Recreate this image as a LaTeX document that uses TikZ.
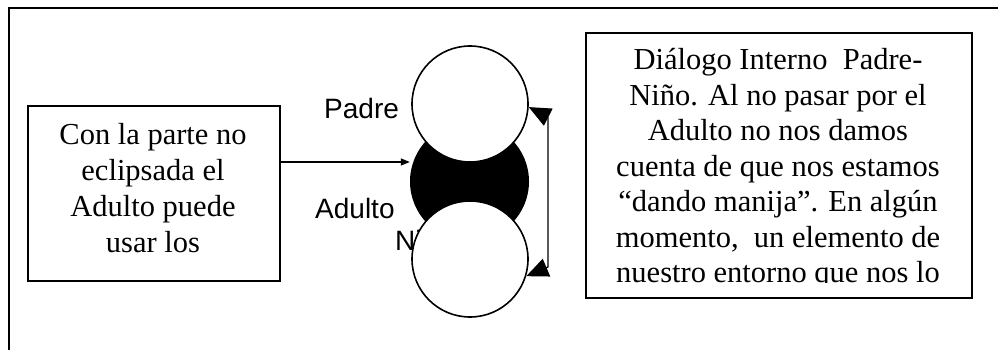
\documentclass[tikz,border=0pt]{standalone}
\usepackage{fontspec}
\setmainfont{Liberation Serif}
\newfontfamily\arialf{Liberation Sans}
\usetikzlibrary{arrows.meta}
\tikzset{
  frameline/.style={line width=1.8pt, line cap=rect},
  textbox/.style={draw, line width=1.6pt},
  circ/.style={circle, draw, line width=1.6pt, minimum size=116pt, inner sep=0pt, fill=white},
  blackcirc/.style={circle, fill=black, minimum size=119pt, inner sep=0pt},
  lbl/.style={font=\arialf\fontsize{28}{32}\selectfont, inner sep=0pt, anchor=base west},
  bodytext/.style={inner sep=0pt, anchor=base},
  conn/.style={line width=1.2pt}
}
\begin{document}
\begin{tikzpicture}[x=1pt,y=-1pt]
\useasboundingbox (0,0) rectangle (998,350);
% outer frame (only top and left edges visible)
\draw[frameline] (9,352) -- (9,8) -- (1000,8);
% left box
\node[textbox, minimum width=252pt, minimum height=175pt, anchor=north west] (L) at (27,105) {};
\node[bodytext] (Lt) at (153,144) {\parbox[t]{250pt}{\centering\fontsize{30.5}{36}\selectfont Con la parte no\\ eclipsada el\\ Adulto puede\\ usar los}};
% right box
\node[textbox, minimum width=386pt, minimum height=265pt, anchor=north west] (R) at (585,32) {};
\begin{scope}
\clip (587,34) rectangle (969,282);
\node[bodytext] (Rt) at (778,70) {\parbox[t]{382pt}{\centering\fontsize{30.5}{35.5}\selectfont Diálogo Interno\ \ Padre-\\ Niño. Al no pasar por el\\ Adulto no nos damos\\ cuenta de que nos estamos\\ “dando manija”. En algún\\ momento,\ \ un elemento de\\ nuestro entorno que nos lo}};
\end{scope}
% labels
\node[lbl] (lp) at (324,118) {Padre};
\node[lbl] (la) at (315,218) {Adulto};
\node[lbl] (ln) at (395,250) {Niño};
% circles
\node[blackcirc] (A) at (469.5,181.5) {};
\node[circ] (P) at (470,104) {};
\node[circ] (N) at (470,259) {};
% connectors
\draw[conn, -{Triangle[length=9pt,width=7pt]}] (L.east |- 0,162) -- (A.west |- 0,162);
\coordinate (c1) at (548,117);
\coordinate (c2) at (548,267);
\draw[conn, {Triangle[length=22pt,width=19pt]}-{Triangle[length=22pt,width=19pt]}] (P.-3) -- (c1) -- (c2) -- (N.-17);
\end{tikzpicture}
\end{document}
